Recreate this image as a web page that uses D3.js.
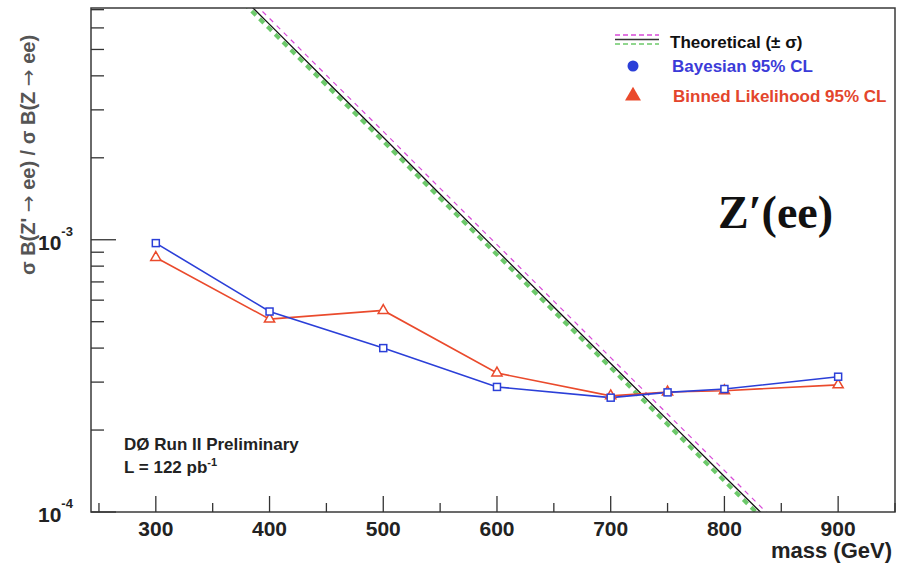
<!DOCTYPE html>
<html>
<head>
<meta charset="utf-8">
<script src="https://cdn.jsdelivr.net/npm/d3@7"></script>
<style>
  body { margin: 0; background: #fff; }
  text { font-family: "Liberation Sans", Arial, sans-serif; font-weight: bold; }
</style>
</head>
<body>
<div id="chart"></div>
<script>
// data
const masses = [300, 400, 500, 600, 700, 750, 800, 900];
const bayesian = [9.72e-4, 5.45e-4, 4.00e-4, 2.88e-4, 2.63e-4, 2.75e-4, 2.83e-4, 3.14e-4];
const binned = [8.61e-4, 5.11e-4, 5.50e-4, 3.24e-4, 2.67e-4, 2.76e-4, 2.79e-4, 2.93e-4];

const theoryMass = [350, 400, 450, 500, 550, 600, 650, 700, 750, 800, 850];
const theory = [9.95e-3, 6.18e-3, 3.83e-3, 2.38e-3, 1.47e-3, 9.14e-4, 5.66e-4, 3.51e-4, 2.18e-4, 1.35e-4, 8.4e-5];
const theoryPlus = [1.045e-2, 6.5e-3, 4.02e-3, 2.5e-3, 1.545e-3, 9.6e-4, 5.95e-4, 3.69e-4, 2.29e-4, 1.42e-4, 8.8e-5];
const theoryMinus = [9.6e-3, 5.96e-3, 3.7e-3, 2.3e-3, 1.42e-3, 8.82e-4, 5.46e-4, 3.39e-4, 2.1e-4, 1.3e-4, 8.1e-5];

const xTickLabels = [300, 400, 500, 600, 700, 800, 900];
const yTickLabels = [{ v: 1e-3, exp: "-3" }, { v: 1e-4, exp: "-4" }];

const W = 897, H = 566;
const pLeft = 91, pRight = 895, pTop = 8, pBottom = 512;

const svg = d3.select("#chart").append("svg")
    .attr("width", W)
    .attr("height", H);

const x = d3.scaleLinear().domain([243, 950]).range([pLeft, pRight]);
const y = d3.scaleLog().domain([1e-4, 7.1e-3]).range([pBottom, pTop]);

svg.append("defs").append("clipPath").attr("id", "clip")
    .append("rect")
    .attr("x", pLeft).attr("y", pTop)
    .attr("width", pRight - pLeft).attr("height", pBottom - pTop);

const plot = svg.append("g").attr("clip-path", "url(#clip)");

// theory band lines
const line = d3.line().x(d => x(d[0])).y(d => y(d[1]));
const green = "#6cc96a", pink = "#d84ad8";

plot.append("path")
    .datum(theoryMass.map((m, i) => [m, theoryMinus[i]]))
    .attr("d", line)
    .attr("fill", "none")
    .attr("stroke", green)
    .attr("stroke-width", 4)
    .attr("stroke-dasharray", "6,5");

plot.append("path")
    .datum(theoryMass.map((m, i) => [m, theoryPlus[i]]))
    .attr("d", line)
    .attr("fill", "none")
    .attr("stroke", pink)
    .attr("stroke-width", 1.2)
    .attr("stroke-dasharray", "5,5");

plot.append("path")
    .datum(theoryMass.map((m, i) => [m, theory[i]]))
    .attr("d", line)
    .attr("fill", "none")
    .attr("stroke", "#111")
    .attr("stroke-width", 1.3);

// limits
const blue = "#2b3fd8", red = "#ea4a2c";

plot.append("path")
    .datum(masses.map((m, i) => [m, binned[i]]))
    .attr("d", line)
    .attr("fill", "none")
    .attr("stroke", red)
    .attr("stroke-width", 1.6);

plot.append("path")
    .datum(masses.map((m, i) => [m, bayesian[i]]))
    .attr("d", line)
    .attr("fill", "none")
    .attr("stroke", blue)
    .attr("stroke-width", 1.6);

const tri = d3.symbol().type(d3.symbolTriangle).size(45);

plot.selectAll(".tri")
    .data(masses.map((m, i) => [m, binned[i]]))
    .join("path")
    .attr("transform", d => `translate(${x(d[0])},${y(d[1])})`)
    .attr("d", tri)
    .attr("fill", "#fff")
    .attr("stroke", red)
    .attr("stroke-width", 1.5);

plot.selectAll(".sq")
    .data(masses.map((m, i) => [m, bayesian[i]]))
    .join("rect")
    .attr("x", d => x(d[0]) - 3.5)
    .attr("y", d => y(d[1]) - 3.5)
    .attr("width", 7)
    .attr("height", 7)
    .attr("fill", "#fff")
    .attr("stroke", blue)
    .attr("stroke-width", 1.5);

// frame
svg.append("rect")
    .attr("x", pLeft).attr("y", pTop)
    .attr("width", pRight - pLeft).attr("height", pBottom - pTop)
    .attr("fill", "none")
    .attr("stroke", "#3a3a3a")
    .attr("stroke-width", 1.5);

// x ticks
const axisCol = "#333";
svg.selectAll(".xt")
    .data(d3.range(250, 951, 50))
    .join("line")
    .attr("x1", d => x(d)).attr("x2", d => x(d))
    .attr("y1", pBottom)
    .attr("y2", d => pBottom - (d % 100 === 0 ? 16 : 9))
    .attr("stroke", axisCol)
    .attr("stroke-width", 1.3);

svg.selectAll(".xl")
    .data(xTickLabels)
    .join("text")
    .attr("x", d => x(d))
    .attr("y", 536)
    .attr("text-anchor", "middle")
    .attr("font-size", 21)
    .attr("fill", "#222")
    .text(d => d);

// y ticks
svg.selectAll(".yt")
    .data(y.ticks())
    .join("line")
    .attr("x1", pLeft)
    .attr("x2", d => pLeft + (Math.abs(Math.log10(d) - Math.round(Math.log10(d))) < 1e-6 ? 25 : 13))
    .attr("y1", d => y(d)).attr("y2", d => y(d))
    .attr("stroke", axisCol)
    .attr("stroke-width", 1.3);

const yl = svg.selectAll(".yl")
    .data(yTickLabels)
    .join("text")
    .attr("x", 38)
    .attr("y", d => y(d.v) + 10)
    .attr("font-size", 21)
    .attr("fill", "#222");
yl.append("tspan").text("10");
yl.append("tspan").attr("font-size", 13).attr("dy", -14).text(d => d.exp);

// axis titles
svg.append("text")
    .attr("x", 892)
    .attr("y", 558)
    .attr("text-anchor", "end")
    .attr("font-size", 22)
    .attr("fill", "#222")
    .text("mass (GeV)");

const yTitle = svg.append("text")
    .attr("transform", "translate(35,155) rotate(-90)")
    .attr("text-anchor", "middle")
    .attr("font-size", 20)
    .attr("fill", "#555");
yTitle.append("tspan").text("σ B(Z' ");
yTitle.append("tspan").style("font-family", "'DejaVu Sans', sans-serif").style("font-weight", "normal").text("→");
yTitle.append("tspan").text(" ee) / σ B(Z ");
yTitle.append("tspan").style("font-family", "'DejaVu Sans', sans-serif").style("font-weight", "normal").text("→");
yTitle.append("tspan").text(" ee)");

// annotations
svg.append("text")
    .attr("x", 124).attr("y", 450)
    .attr("font-size", 17)
    .attr("fill", "#222")
    .text("DØ  Run II Preliminary");

const lum = svg.append("text")
    .attr("x", 124).attr("y", 473)
    .attr("font-size", 17)
    .attr("fill", "#222");
lum.append("tspan").text("L = 122 pb");
lum.append("tspan").attr("font-size", 11).attr("dy", -7).text("-1");

svg.append("text")
    .attr("x", 718).attr("y", 228)
    .style("font-family", "'Liberation Serif', 'DejaVu Serif', serif")
    .attr("font-size", 46)
    .attr("fill", "#111")
    .text("Z′(ee)");

// legend
const lg = svg.append("g");
lg.append("line").attr("x1", 615).attr("x2", 659).attr("y1", 35).attr("y2", 35)
    .attr("stroke", pink).attr("stroke-width", 1.5).attr("stroke-dasharray", "5,3");
lg.append("line").attr("x1", 615).attr("x2", 659).attr("y1", 39.5).attr("y2", 39.5)
    .attr("stroke", "#333").attr("stroke-width", 1.5);
lg.append("line").attr("x1", 615).attr("x2", 659).attr("y1", 44).attr("y2", 44)
    .attr("stroke", green).attr("stroke-width", 1.5).attr("stroke-dasharray", "5,3");
lg.append("text").attr("x", 670).attr("y", 48).attr("font-size", 17).attr("fill", "#111")
    .text("Theoretical (± σ)");

lg.append("circle").attr("cx", 633).attr("cy", 66).attr("r", 5.5).attr("fill", blue);
lg.append("text").attr("x", 672).attr("y", 72).attr("font-size", 17).attr("fill", "#3b3bd8")
    .text("Bayesian 95% CL");

lg.append("path").attr("transform", "translate(633,96)")
    .attr("d", d3.symbol().type(d3.symbolTriangle).size(110))
    .attr("fill", red);
lg.append("text").attr("x", 673).attr("y", 102).attr("font-size", 17).attr("fill", "#e3452c")
    .text("Binned Likelihood 95% CL");
</script>
</body>
</html>
